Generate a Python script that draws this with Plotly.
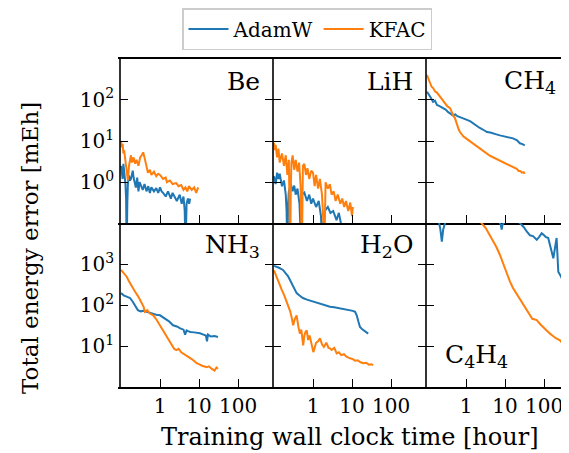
import plotly.graph_objects as go
from plotly.subplots import make_subplots

# ---------------- data (hours, mEh) ----------------
be_adam_t = [0.1, 0.105, 0.11, 0.115, 0.12, 0.125, 0.13, 0.135, 0.14, 0.145, 0.15, 0.16, 0.17, 0.18, 0.19, 0.2, 0.21, 0.22, 0.24, 0.26, 0.28, 0.3, 0.33, 0.36, 0.4, 0.45, 0.5, 0.55, 0.6, 0.7, 0.8, 0.9, 1.0, 1.1, 1.2, 1.4, 1.6, 1.9, 2.1, 2.3, 2.7, 3.2, 3.6, 4.0, 4.3, 4.5, 4.8, 5.2, 5.6, 5.9]
be_adam_y = [2.5, 1.4, 1.2, 2.8, 1.9, 1.5, 0.9, 0.4, 0.02, 0.3, 0.9, 1.45, 1.1, 1.2, 1.6, 1.9, 1.3, 1.0, 0.74, 1.3, 0.6, 1.0, 0.8, 0.65, 0.9, 0.6, 0.8, 0.55, 0.75, 0.6, 0.72, 0.55, 0.75, 0.6, 0.55, 0.45, 0.6, 0.4, 0.55, 0.45, 0.35, 0.5, 0.3, 0.45, 0.2, 0.02, 0.3, 0.4, 0.3, 0.4]

be_kfac_t = [0.1, 0.105, 0.11, 0.115, 0.12, 0.13, 0.14, 0.15, 0.16, 0.17, 0.18, 0.19, 0.21, 0.23, 0.25, 0.28, 0.31, 0.34, 0.37, 0.4, 0.44, 0.49, 0.55, 0.6, 0.7, 0.8, 0.9, 1.0, 1.2, 1.4, 1.5, 1.8, 2.1, 2.6, 3.0, 3.5, 4.0, 4.5, 5.0, 5.5, 6.5, 7.5, 8.5, 9.5]
be_kfac_y = [10.0, 7.0, 8.5, 5.0, 6.0, 3.5, 2.0, 1.1, 2.5, 3.5, 4.5, 3.0, 4.0, 2.8, 3.5, 2.5, 4.0, 4.5, 5.3, 4.0, 2.5, 1.7, 2.0, 1.5, 1.8, 1.4, 1.6, 1.5, 1.2, 1.3, 1.0, 1.1, 0.9, 0.95, 0.8, 0.85, 0.65, 0.75, 0.6, 0.8, 0.65, 0.75, 0.55, 0.75]

lih_adam_t = [0.1, 0.11, 0.12, 0.13, 0.14, 0.16, 0.18, 0.2, 0.21, 0.22, 0.23, 0.24, 0.27, 0.3, 0.33, 0.36, 0.4, 0.45, 0.47, 0.49, 0.52, 0.6, 0.7, 0.8, 0.9, 1.0, 1.2, 1.4, 1.6, 1.75, 1.85, 2.0, 2.4, 2.8, 3.3, 4.0, 4.6, 5.2, 5.5]
lih_adam_y = [1.4, 0.9, 1.7, 1.2, 1.6, 0.8, 1.1, 0.5, 0.2, 0.02, 0.3, 0.6, 0.9, 0.6, 0.83, 0.5, 0.7, 0.3, 0.1, 0.02, 0.5, 0.56, 0.35, 0.5, 0.3, 0.4, 0.25, 0.35, 0.15, 0.02, 0.1, 0.2, 0.25, 0.18, 0.2, 0.12, 0.18, 0.1, 0.02]

lih_kfac_t = [0.1, 0.105, 0.11, 0.12, 0.13, 0.14, 0.16, 0.18, 0.2, 0.22, 0.24, 0.25, 0.26, 0.27, 0.28, 0.3, 0.33, 0.36, 0.4, 0.44, 0.48, 0.5, 0.52, 0.55, 0.6, 0.66, 0.72, 0.8, 0.9, 1.0, 1.1, 1.2, 1.35, 1.5, 1.7, 1.85, 1.95, 2.1, 2.4, 2.7, 3.0, 3.4, 3.8, 4.3, 5.0, 5.6, 6.3, 7.0, 8.0, 9.0, 10.0, 10.5]
lih_kfac_y = [9.0, 6.0, 8.0, 4.0, 6.5, 3.0, 5.0, 2.5, 4.5, 1.5, 3.5, 0.6, 0.02, 0.8, 3.0, 4.5, 2.0, 3.5, 1.8, 3.0, 0.8, 0.1, 0.02, 2.5, 2.8, 1.5, 2.2, 1.2, 1.9, 1.7, 0.8, 1.5, 0.7, 1.2, 0.5, 0.1, 0.02, 1.0, 0.7, 0.9, 0.5, 0.6, 0.35, 0.5, 0.3, 0.4, 0.25, 0.35, 0.2, 0.32, 0.15, 0.25]

ch4_adam_t = [0.1, 0.11, 0.12, 0.13, 0.143, 0.16, 0.18, 0.21, 0.257, 0.3, 0.35, 0.4, 0.46, 0.53, 0.6, 0.7, 0.84, 1.0, 1.1, 1.3, 1.51, 1.8, 2.2, 2.7, 3.45, 4.2, 5.0, 6.0, 7.4, 9.0, 11.0, 13.0, 16.0, 18.0, 20.0, 22.0, 24.0, 28.0, 32.0]
ch4_adam_y = [157, 140, 120, 105, 89, 95, 75, 70, 62, 58, 50, 46, 42, 44, 40, 38, 36, 34, 32, 30, 27, 24, 21, 19, 16.5, 16, 15, 14.5, 13.7, 13.2, 12.5, 12.2, 11.6, 11.0, 10.5, 9.6, 8.8, 8.4, 7.8]

ch4_kfac_t = [0.1, 0.11, 0.12, 0.13, 0.145, 0.16, 0.18, 0.2, 0.215, 0.25, 0.28, 0.33, 0.39, 0.42, 0.45, 0.48, 0.52, 0.56, 0.6, 0.65, 0.7, 0.78, 0.85, 1.0, 1.15, 1.3, 1.55, 1.8, 2.1, 2.5, 3.2, 3.8, 4.5, 5.6, 6.5, 7.5, 8.5, 10.0, 12.0, 14.0, 17.0, 20.0, 22.0, 25.0, 27.0, 30.0, 32.0]
ch4_kfac_y = [400, 320, 250, 210, 190, 160, 150, 130, 118, 100, 85, 70, 63, 52, 45, 40, 36, 28, 22, 19, 16.5, 14.5, 13, 11.6, 10.5, 9.5, 8.6, 7.8, 6.8, 6.0, 5.0, 4.6, 4.2, 3.8, 3.5, 3.2, 3.1, 2.9, 2.6, 2.4, 2.2, 2.1, 1.9, 1.85, 1.7, 1.75, 1.6]

nh3_adam_t = [0.1, 0.12, 0.14, 0.17, 0.2, 0.24, 0.27, 0.32, 0.38, 0.46, 0.6, 0.8, 1.0, 1.3, 1.7, 2.15, 2.7, 3.3, 4.0, 4.4, 4.8, 5.2, 6.0, 7.5, 9.0, 10.6, 13.0, 15.0, 16.0, 17.0, 20.0, 25.0, 30.6]
nh3_adam_y = [195, 170, 160, 148, 120, 90, 75, 70, 72, 68, 62, 58, 56, 48, 40, 32, 30, 27, 25, 19, 24, 23, 22, 21.5, 21, 20.5, 19, 18, 13, 19, 17, 17.5, 16.6]

nh3_kfac_t = [0.1, 0.12, 0.14, 0.16, 0.19, 0.23, 0.28, 0.33, 0.38, 0.41, 0.47, 0.55, 0.67, 0.8, 1.0, 1.3, 1.6, 2.0, 2.3, 2.6, 3.0, 3.5, 4.0, 4.8, 5.5, 6.5, 7.5, 8.7, 10.0, 12.0, 15.7, 18.0, 21.0, 25.0, 28.0, 30.6]
nh3_kfac_y = [716, 600, 490, 380, 280, 210, 158, 120, 90, 68, 75, 62, 56, 45, 32, 22, 15.5, 11, 8.5, 7.9, 8.5, 7.0, 6.5, 5.9, 5.3, 4.8, 4.3, 3.8, 3.6, 3.3, 3.05, 3.2, 2.8, 2.5, 3.0, 2.8]

h2o_adam_t = [0.1, 0.106, 0.13, 0.17, 0.2, 0.23, 0.257, 0.3, 0.34, 0.38, 0.45, 0.55, 0.7, 0.9, 1.24, 1.7, 2.2, 2.73, 3.5, 4.5, 6.0, 7.5, 8.9, 10.5, 12.0, 13.2, 14.5, 16.0, 18.0, 20.0, 23.0, 26.0]
h2o_adam_y = [900, 890, 820, 716, 600, 500, 407, 300, 230, 195, 170, 148, 135, 125, 112, 105, 97, 91, 88, 84, 80, 78, 75, 72, 68, 56, 40, 29, 26, 24, 22, 20]

h2o_kfac_t = [0.1, 0.106, 0.12, 0.14, 0.158, 0.18, 0.2, 0.23, 0.26, 0.29, 0.31, 0.34, 0.38, 0.42, 0.46, 0.5, 0.56, 0.6, 0.64, 0.69, 0.75, 0.82, 0.9, 0.95, 1.02, 1.1, 1.2, 1.35, 1.51, 1.7, 1.9, 2.2, 2.5, 2.73, 3.0, 3.5, 4.05, 4.6, 5.3, 6.2, 7.2, 8.9, 10.5, 12.0, 14.0, 16.5, 19.5, 23.0, 27.0, 31.0, 35.0]
h2o_kfac_y = [700, 600, 450, 320, 233, 180, 140, 100, 70, 45, 32, 45, 56, 30, 20, 25, 10.4, 18, 22, 24, 14, 18, 12, 9, 7.1, 9, 12, 13, 15.5, 11, 9.5, 12, 9, 8.8, 8, 9, 6.6, 7, 6.0, 6.3, 5.5, 5.0, 4.8, 4.4, 4.5, 4.0, 3.8, 3.9, 3.5, 3.6, 3.4]

c4h4_adam_t = [0.1, 0.15, 0.2, 0.22, 0.24, 0.26, 0.3, 0.5, 1.0, 2.0, 3.0, 5.0, 7.0, 7.8, 8.2, 8.6, 10.0, 15.0, 20.0, 24.0, 30.0, 36.0, 43.6, 52.0, 60.0, 65.0, 75.0, 87.0, 100.0, 110.0, 128.0, 150.0, 173.0, 210.0, 232.0, 270.0, 312.0, 418.0]
c4h4_adam_y = [12000, 11500, 11000, 7000, 3500, 7000, 11000, 12500, 11500, 12000, 11800, 12500, 11000, 9000, 6900, 9000, 11000, 12000, 11500, 10000, 8000, 6200, 5000, 4800, 4300, 3900, 4600, 5600, 5000, 4600, 4300, 2500, 1380, 4300, 650, 500, 370, 175]

c4h4_kfac_t = [0.1, 0.3, 1.0, 2.5, 3.2, 4.1, 5.0, 6.0, 7.4, 9.0, 11.0, 13.4, 16.0, 19.0, 24.0, 30.0, 36.0, 43.6, 50.0, 56.0, 65.0, 80.0, 100.0, 120.0, 142.0, 170.0, 200.0, 256.0, 300.0, 360.0, 418.0, 480.0]
c4h4_kfac_y = [40000, 30000, 18000, 10000, 7500, 5100, 3700, 2600, 1660, 1000, 600, 370, 260, 200, 148, 100, 75, 56, 46, 45, 43, 34, 27, 23, 20, 17.5, 15.5, 13.8, 11.5, 9.0, 7.1, 6.0]

panels = [
    ("Be", be_adam_t, be_adam_y, be_kfac_t, be_kfac_y),
    ("LiH", lih_adam_t, lih_adam_y, lih_kfac_t, lih_kfac_y),
    ("CH<sub>4</sub>", ch4_adam_t, ch4_adam_y, ch4_kfac_t, ch4_kfac_y),
    ("NH<sub>3</sub>", nh3_adam_t, nh3_adam_y, nh3_kfac_t, nh3_kfac_y),
    ("H<sub>2</sub>O", h2o_adam_t, h2o_adam_y, h2o_kfac_t, h2o_kfac_y),
    ("C<sub>4</sub>H<sub>4</sub>", c4h4_adam_t, c4h4_adam_y, c4h4_kfac_t, c4h4_kfac_y),
]
series_names = ["AdamW", "KFAC"]
series_colors = ["#1f77b4", "#ff7f0e"]

x_ticks = [1, 10, 100]
x_ticktext = ["1", "10", "100"]
top_yticks = [1, 10, 100]
top_yticktext = ["10<sup>0</sup>", "10<sup>1</sup>", "10<sup>2</sup>"]
bot_yticks = [10, 100, 1000]
bot_yticktext = ["10<sup>1</sup>", "10<sup>2</sup>", "10<sup>3</sup>"]

FONT = "DejaVu Serif"
LW = 1.6
COL_W = [153, 153, 143]

fig = make_subplots(rows=2, cols=3, column_widths=COL_W,
                    horizontal_spacing=0, vertical_spacing=0)

for i, (label, ta, ya, tk, yk) in enumerate(panels):
    r = i // 3 + 1
    c = i % 3 + 1
    for j, (t, y) in enumerate([(ta, ya), (tk, yk)]):
        fig.add_trace(go.Scatter(x=t, y=y, mode="lines", name=series_names[j],
                                 line=dict(color=series_colors[j], width=2),
                                 showlegend=(i == 0)), row=r, col=c)

for i in range(6):
    r = i // 3 + 1
    c = i % 3 + 1
    xr = [-1.026, 2.897] if c < 3 else [-1.026, 2.64]
    fig.update_xaxes(type="log", range=xr, tickvals=x_ticks, ticktext=x_ticktext,
                     ticks="inside", ticklen=8, tickwidth=1.3, tickcolor="black",
                     showline=True, linecolor="black", linewidth=LW,
                     mirror=(r == 1),
                     showgrid=False, zeroline=False, showticklabels=(r == 2),
                     tickfont=dict(family=FONT, size=20, color="black"),
                     row=r, col=c)
    yr = [-0.99, 2.99] if r == 1 else [0.0, 4.0]
    fig.update_yaxes(type="log", range=yr,
                     tickvals=top_yticks if r == 1 else bot_yticks,
                     ticktext=top_yticktext if r == 1 else bot_yticktext,
                     ticks="inside", ticklen=8, tickwidth=1.3, tickcolor="black",
                     showline=True, linecolor="rgba(0,0,0,0)", linewidth=LW,
                     mirror=("ticks" if c < 3 else False),
                     showgrid=False, zeroline=False, showticklabels=(c == 1),
                     tickfont=dict(family=FONT, size=20, color="black"),
                     row=r, col=c)

# vertical panel borders (left frame and the two column boundaries)
edge = 0.0
for w in [0] + COL_W[:2]:
    edge += w / sum(COL_W)
    fig.add_shape(type="line", xref="paper", yref="paper", x0=edge, x1=edge, y0=0, y1=1,
                  line=dict(color="black", width=LW), layer="above")

# panel labels
label_pos = [
    (0.93, 0.86, "right"), (0.93, 0.86, "right"), (0.925, 0.86, "right"),
    (0.93, 0.86, "right"), (0.93, 0.86, "right"), (0.12, 0.19, "left"),
]
for i, (label, *_rest) in enumerate(panels):
    ax = i + 1
    xs = "" if ax == 1 else str(ax)
    px, py, anc = label_pos[i]
    fig.add_annotation(text=label, xref=f"x{xs} domain", yref=f"y{xs} domain",
                       x=px, y=py, xanchor=anc, yanchor="middle", showarrow=False,
                       font=dict(family=FONT, size=25, color="black"))

fig.add_annotation(text="Training wall clock time [hour]", xref="paper", yref="paper",
                   x=(350 - 120) / 449, y=(387 - 437) / 328, xanchor="center", yanchor="middle",
                   showarrow=False, font=dict(family=FONT, size=24, color="black"))
fig.add_annotation(text="Total energy error [mEh]", xref="paper", yref="paper",
                   x=(30 - 120) / 449, y=(387 - 248) / 328, xanchor="center", yanchor="middle",
                   textangle=-90, showarrow=False, font=dict(family=FONT, size=23, color="black"))

# page body has an 8px margin: shift the figure so the plot area lands at (120, 59)
fig.update_layout(
    width=561, height=445,
    margin=dict(l=112, r=0, t=51, b=66, autoexpand=False),
    paper_bgcolor="white", plot_bgcolor="white",
    font=dict(family=FONT, color="black"),
    legend=dict(orientation="h", x=(307 - 120) / 449, y=(387 - 29) / 328,
                xanchor="center", yanchor="middle",
                bordercolor="#cccccc", borderwidth=1.5, bgcolor="white",
                font=dict(family=FONT, size=20, color="black"),
                itemwidth=40, tracegroupgap=0),
)

fig.write_html("out.html")
